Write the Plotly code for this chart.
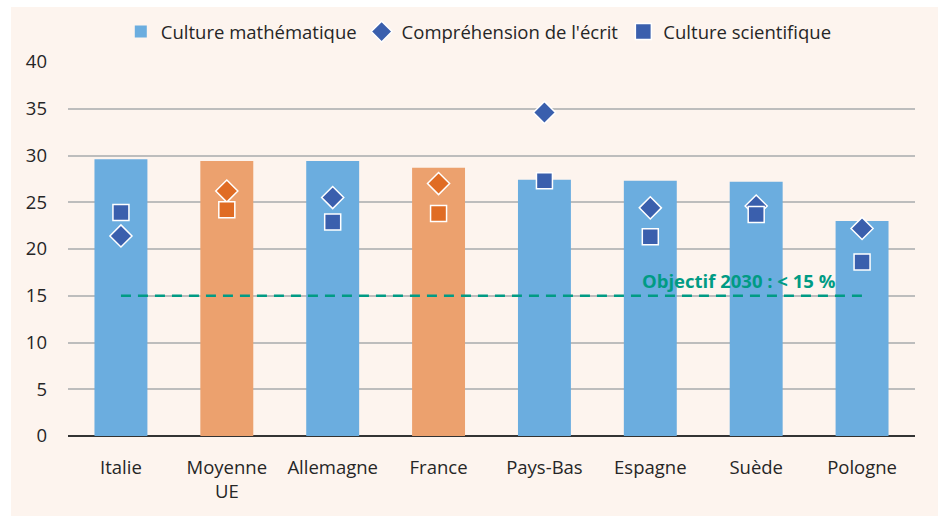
import plotly.graph_objects as go

categories = ["Italie", "Moyenne<br>UE", "Allemagne", "France", "Pays-Bas", "Espagne", "Suède", "Pologne"]
maths = [29.6, 29.4, 29.4, 28.7, 27.4, 27.3, 27.2, 23.0]
lecture = [21.4, 26.2, 25.5, 27.0, 34.6, 24.4, 24.6, 22.2]
sciences = [23.9, 24.2, 22.9, 23.8, 27.3, 21.3, 23.7, 18.6]
highlight = [False, True, False, True, False, False, False, False]
objectif = 15
y_ticks = [0, 5, 10, 15, 20, 25, 30, 35, 40]

BLUE_BAR = "#6BADDF"
ORANGE_BAR = "#ECA16E"
BLUE_MK = "#3A5FAD"
ORANGE_MK = "#E06C24"
TEAL = "#009B84"
BG = "#FDF4EE"
FONT = "Open Sans"

x = list(range(len(categories)))
bar_colors = [ORANGE_BAR if h else BLUE_BAR for h in highlight]
mk_colors = [ORANGE_MK if h else BLUE_MK for h in highlight]

fig = go.Figure()
fig.add_trace(go.Bar(x=x, y=maths, name="Culture mathématique", width=0.5,
                     marker=dict(color=bar_colors, line=dict(width=0))))
fig.add_trace(go.Scatter(x=x, y=lecture, name="Compréhension de l'écrit", mode="markers",
                         marker=dict(symbol="diamond", size=17, color=mk_colors,
                                     line=dict(color="white", width=1.5))))
fig.add_trace(go.Scatter(x=x, y=sciences, name="Culture scientifique", mode="markers",
                         marker=dict(symbol="square", size=16, color=mk_colors,
                                     line=dict(color="white", width=1.5))))
fig.add_trace(go.Scatter(x=[x[0], x[-1]], y=[objectif, objectif], mode="lines",
                         showlegend=False, hoverinfo="skip",
                         line=dict(color=TEAL, width=2.5, dash="10px,7px")))

fig.add_annotation(x=5.84, y=16.6, text="<b>Objectif 2030 : &lt; 15 %</b>", showarrow=False,
                   font=dict(color=TEAL, size=18.5, family=FONT))

L, R, T, B = 68, 23, 62, 80
W, H = 938, 516
pw, ph = W - L - R, H - T - B
# white border strips on left and top
fig.add_shape(type="rect", xref="paper", yref="paper", layer="below",
              x0=(0 - L) / pw, x1=(11 - L) / pw, y0=-B / ph - 0.01, y1=1 + T / ph + 0.01,
              fillcolor="white", line=dict(width=0))
fig.add_shape(type="rect", xref="paper", yref="paper", layer="below",
              x0=(0 - L) / pw, x1=(W - L) / pw + 0.01, y0=1 + (T - 7) / ph, y1=1 + T / ph + 0.01,
              fillcolor="white", line=dict(width=0))

fig.update_layout(
    width=W, height=H,
    margin=dict(l=L, r=R, t=T, b=B),
    paper_bgcolor=BG, plot_bgcolor=BG,
    font=dict(family=FONT, size=19, color="#262626"),
    bargap=0.5,
    legend=dict(orientation="h", x=0.485, xanchor="center", y=1.0 + 30 / ph, yanchor="middle",
                font=dict(size=18.5), itemwidth=30, tracegroupgap=0, bgcolor="rgba(0,0,0,0)"),
    xaxis=dict(tickvals=x, ticktext=categories, range=[-0.5, len(x) - 0.5],
               showgrid=False, zeroline=False, showline=False, ticks="",
               tickfont=dict(size=18.5), ticklabelstandoff=18),
    yaxis=dict(range=[0, 40], tickvals=y_ticks, showgrid=True, gridcolor="#BDBDBD",
               gridwidth=1.5, zeroline=True, zerolinecolor="#333333", zerolinewidth=1.5,
               ticks="", tickfont=dict(size=18.5), ticklabelstandoff=20),
)

fig.write_html("out.html")
